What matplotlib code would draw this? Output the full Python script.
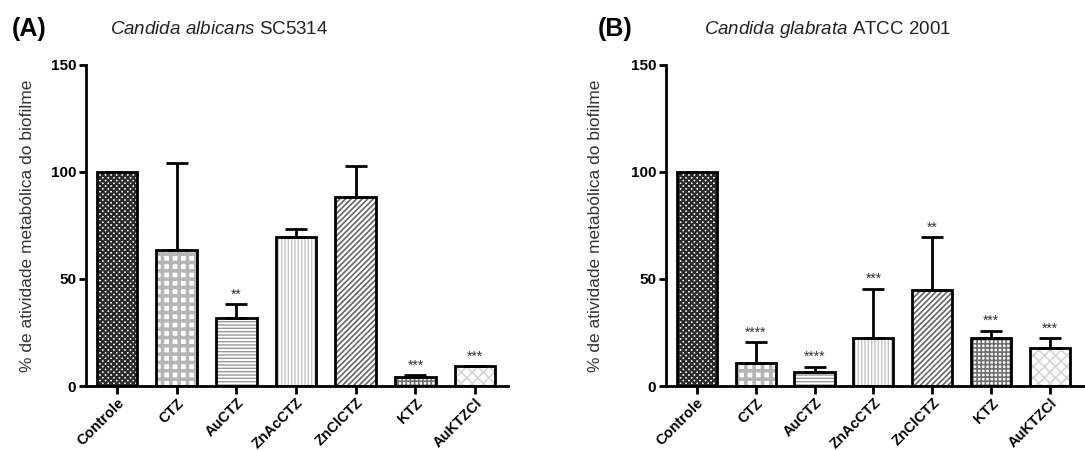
import matplotlib
matplotlib.use('Agg')
import matplotlib.pyplot as plt
import numpy as np

plt.rcParams['font.family'] = ['Liberation Sans', 'DejaVu Sans']
plt.rcParams['mathtext.fontset'] = 'custom'
plt.rcParams['mathtext.it'] = 'Liberation Sans:italic'
plt.rcParams['mathtext.rm'] = 'Liberation Sans'
plt.rcParams['hatch.linewidth'] = 1.2

groups = ['Controle', 'CTZ', 'AuCTZ', 'ZnAcCTZ', 'ZnClCTZ', 'KTZ', 'AuKTZCl']

# panel A - Candida albicans SC5314
mean_a = [100, 63.5, 31.9, 69.8, 88.5, 4.4, 9.3]
sd_a = [0, 40.8, 6.3, 3.4, 14.5, 0.7, 0]
stars_a = ['', '', '**', '', '', '***', '***']

# panel B - Candida glabrata ATCC 2001
mean_b = [100, 10.9, 6.4, 22.3, 44.9, 22.3, 17.9]
sd_b = [0, 9.5, 2.6, 23.0, 24.6, 3.4, 4.4]
stars_b = ['', '****', '****', '***', '**', '***', '***']

# hatch / hatch colour / hatch width for each bar
styles = [
    ('xxxxxx', '#2a2a2a', 1.6),
    ('++', '#b5b5b5', 2.6),
    ('-----', '#999999', 1.0),
    ('|||||', '#c4c4c4', 1.0),
    ('//////', '#666666', 1.2),
    ('++++', '#707070', 1.2),
    ('xxx', '#d5d5d5', 1.2),
]


def draw_panel(ax, means, sds, stars, right_pad):
    x = np.arange(len(groups))
    for i in range(len(groups)):
        hatch, hc, hw = styles[i]
        b = ax.bar(x[i], means[i], width=0.68, color='white', hatch=hatch,
                   edgecolor=hc, linewidth=0, zorder=2)
        try:
            b[0].set_hatch_linewidth(hw)
        except AttributeError:
            pass
    ax.errorbar(x, means, yerr=[np.zeros(len(sds)), sds], fmt='none',
                ecolor='black', elinewidth=2, capsize=8, capthick=2, zorder=3)
    ax.bar(x, means, width=0.68, fill=False, edgecolor='black',
           linewidth=2, zorder=4)
    for i, s in enumerate(stars):
        if s:
            ax.annotate(s, (x[i], means[i] + sds[i]), xytext=(0, 2),
                        textcoords='offset points', ha='center', va='bottom',
                        fontsize=10, color='#333333')
    ax.set_xlim(-0.52, len(groups) - 1 + right_pad)
    ax.set_ylim(0, 150)
    ax.set_yticks([0, 50, 100, 150])
    ax.set_xticks(x)
    ax.set_xticklabels(groups, rotation=45, ha='right', rotation_mode='anchor',
                       fontsize=10.5, fontweight='bold')
    for lab in ax.get_yticklabels():
        lab.set_fontweight('bold')
        lab.set_fontsize(11)
    ax.tick_params(axis='both', width=2, length=5, direction='out', pad=2)
    ax.tick_params(axis='x', length=6, pad=1)
    for side in ['top', 'right']:
        ax.spines[side].set_visible(False)
    for side in ['left', 'bottom']:
        ax.spines[side].set_linewidth(2)
    ax.set_ylabel('% de atividade metabólica do biofilme', fontsize=12.5,
                  color='#333333')


fig = plt.figure(figsize=(10.85, 4.5), dpi=100)
ax_a = fig.add_axes([86 / 1085, 64 / 450, 422 / 1085, 321 / 450])
ax_b = fig.add_axes([666 / 1085, 64 / 450, 419 / 1085, 321 / 450])

draw_panel(ax_a, mean_a, sd_a, stars_a, 0.55)
draw_panel(ax_b, mean_b, sd_b, stars_b, 0.59)
ax_a.yaxis.set_label_coords(-0.12, 0.5)
ax_b.yaxis.set_label_coords(-0.15, 0.5)

fig.text(12 / 1085, 1 - 29 / 450, '(A)', fontsize=18, fontweight='bold', va='center')
fig.text(110 / 1085, 1 - 30 / 450, r'$\it{Candida\ albicans}$ SC5314', fontsize=13.5,
         va='center', color='#222222')
fig.text(598 / 1085, 1 - 29 / 450, '(B)', fontsize=18, fontweight='bold', va='center')
fig.text(704 / 1085, 1 - 30 / 450, r'$\it{Candida\ glabrata}$ ATCC 2001', fontsize=13.5,
         va='center', color='#222222')

fig.savefig('out.png', dpi=100)
